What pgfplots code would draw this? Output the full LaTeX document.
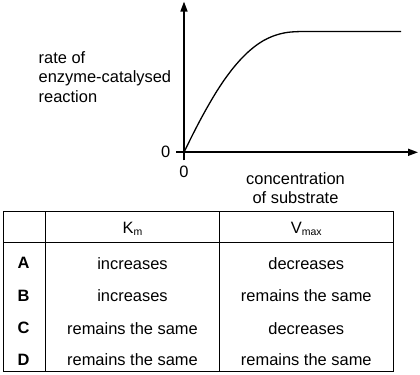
\documentclass[border=0pt]{standalone}
\usepackage{fontspec}
\setmainfont{Liberation Sans}
\usepackage{pgfplots}
\pgfplotsset{compat=1.18}
\usetikzlibrary{arrows.meta}
\begin{document}
\fontsize{16.5}{19.5}\selectfont
\begin{tikzpicture}[font=\fontsize{16.5}{19.5}\selectfont]
\path[use as bounding box] (0,0) rectangle (420bp,375bp);
\begin{axis}[at={(184bp,222.7bp)}, anchor=south west, scale only axis,
  width=234bp, height=150.7bp, xmin=0, xmax=234, ymin=0, ymax=150.7,
  axis lines=left,
  axis line style={line width=1.6bp, -{Triangle[length=10bp,width=7bp]}},
  xtick={0}, ytick={0}, tick align=outside, major tick length=8bp,
  tick style={line width=1.6bp, black},
  /pgf/number format/assume math mode=true,
  ticklabel style={font=\fontsize{16.5}{19.5}\selectfont},
  clip=false]
\addplot[smooth, tension=0.5, line width=1.3bp, black] coordinates {
(0,0) (8,16.3) (16,31.8) (24,46.3) (32,59.8) (40,72.0) (48,82.8) (56,92.2)
(64,100.2) (72,106.8) (80,112.0) (88,115.8) (96,118.4) (104,120.0) (112,120.6)
(120,120.8) (140,120.8) (217,120.8)};
\end{axis}
\begin{scope}[x=1bp,y=-1bp,shift={(0,375bp)}]
% axis titles
\node[align=left, anchor=west] at (33,77) {rate of\\enzyme-catalysed\\reaction};
\node[align=center] at (295.5,188) {concentration\\of substrate};
% table
\begin{scope}[line width=1bp]
\draw (3.3,211.7) rectangle (393.3,371.7);
\draw (3.3,242.7) -- (393.3,242.7);
\draw (45.7,211.7) -- (45.7,371.7);
\draw (219.3,211.7) -- (219.3,371.7);
\end{scope}
\node at (132.5,229) {K\raisebox{-0.3ex}{\fontsize{10.5}{12}\selectfont m}};
\node at (306.3,229) {V\raisebox{-0.3ex}{\fontsize{10.5}{12}\selectfont max}};
\foreach \y/\l/\a/\b in {263.3/A/increases/decreases, 295.7/B/increases/remains the same, 328.3/C/remains the same/decreases, 360/D/remains the same/remains the same}{
  \node at (23.5,\y) {\textbf{\l}};
  \node at (132.5,\y) {\a};
  \node at (306.3,\y) {\b};
}
\end{scope}
\end{tikzpicture}
\end{document}
